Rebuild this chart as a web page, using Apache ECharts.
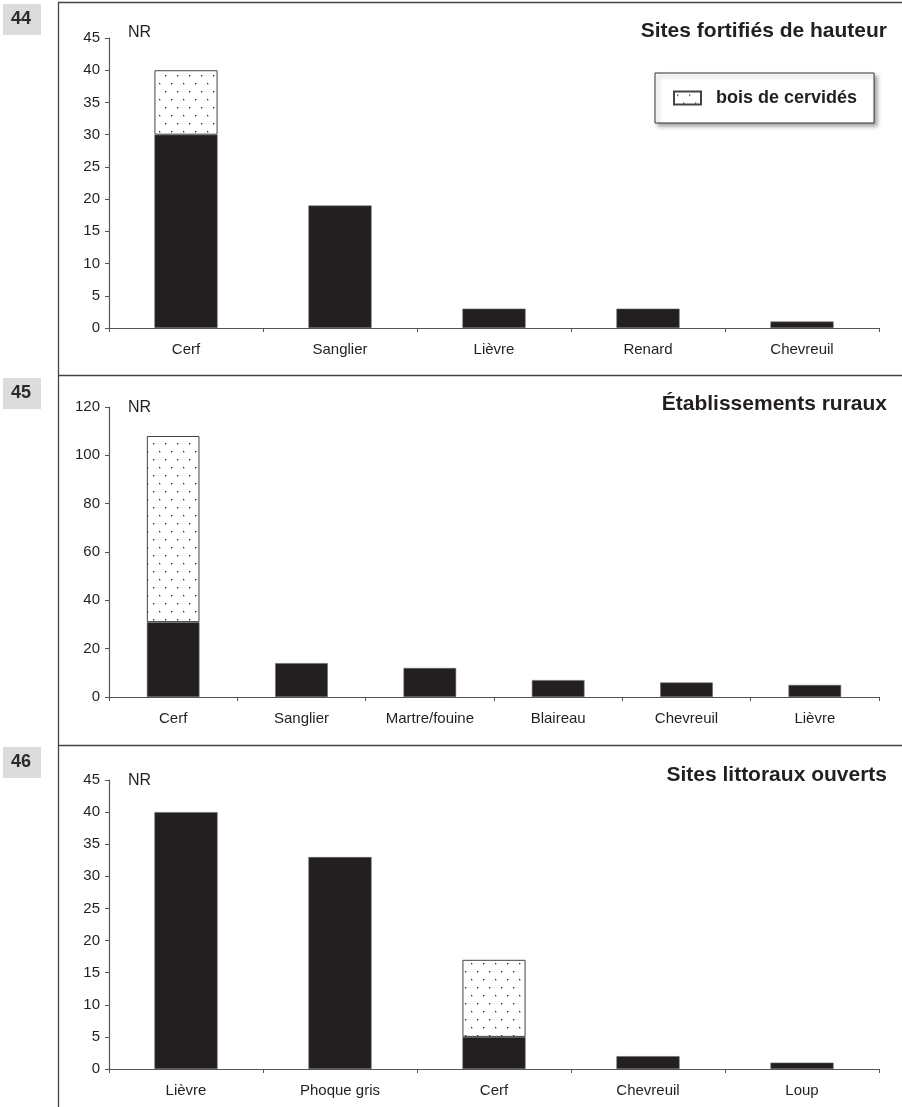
<!DOCTYPE html>
<html>
<head>
<meta charset="utf-8">
<script src="https://cdn.jsdelivr.net/npm/echarts@6/dist/echarts.min.js"></script>
<style>
html,body{margin:0;padding:0;background:#fff;}
#chart{width:902px;height:1107px;}
</style>
</head>
<body>
<div id="chart"></div>
<script>
// ---- Data ----
const cats44 = ['Cerf', 'Sanglier', 'Lièvre', 'Renard', 'Chevreuil'];
const bones44 = [30, 19, 3, 3, 1];
const antler44 = [10, null, null, null, null];

const cats45 = ['Cerf', 'Sanglier', 'Martre/fouine', 'Blaireau', 'Chevreuil', 'Lièvre'];
const bones45 = [31, 14, 12, 7, 6, 5];
const antler45 = [77, null, null, null, null, null];

const cats46 = ['Lièvre', 'Phoque gris', 'Cerf', 'Chevreuil', 'Loup'];
const bones46 = [40, 33, 5, 2, 1];
const antler46 = [null, null, 12, null, null];

const yTicks44 = {min: 0, max: 45, interval: 5};
const yTicks45 = {min: 0, max: 120, interval: 20};
const yTicks46 = {min: 0, max: 45, interval: 5};

const titles = ['Sites fortifiés de hauteur', 'Établissements ruraux', 'Sites littoraux ouverts'];
const figNums = ['44', '45', '46'];
const legendName = 'bois de cervidés';

// ---- Dotted pattern ----
const pat = document.createElement('canvas');
pat.width = 12; pat.height = 16;
const pctx = pat.getContext('2d');
pctx.fillStyle = '#ffffff';
pctx.fillRect(0, 0, 12, 16);
pctx.fillStyle = '#222222';
pctx.fillRect(3, 3, 1.3, 1.3);
pctx.fillRect(9, 11, 1.3, 1.3);

const FONT = 'Liberation Sans, Arial, sans-serif';
const TXT = '#231f20';
const AX = '#555555';
const BAR = '#231f20';

const grids = [
  {left: 109, right: 23, top: 38, height: 290},
  {left: 109, right: 23, top: 407, height: 290},
  {left: 109, right: 23, top: 780, height: 289}
];
const catsAll = [cats44, cats45, cats46];
const bonesAll = [bones44, bones45, bones46];
const antlerAll = [antler44, antler45, antler46];
const yAll = [yTicks44, yTicks45, yTicks46];

const xAxes = catsAll.map((c, i) => ({
  type: 'category', gridIndex: i, data: c,
  axisLine: {lineStyle: {color: AX, width: 1.2}},
  axisTick: {show: true, alignWithLabel: false, length: 4, lineStyle: {color: AX}},
  axisLabel: {color: TXT, fontFamily: FONT, fontSize: 15, margin: 14, interval: 0}
}));
const yAxes = yAll.map((y, i) => ({
  type: 'value', gridIndex: i, min: y.min, max: y.max, interval: y.interval,
  axisLine: {show: true, lineStyle: {color: AX, width: 1.2}},
  axisTick: {show: true, length: 4, lineStyle: {color: AX}},
  splitLine: {show: false},
  axisLabel: {color: TXT, fontFamily: FONT, fontSize: 15, margin: 9}
}));

const series = [];
for (let i = 0; i < 3; i++) {
  series.push({
    name: 'os', type: 'bar', xAxisIndex: i, yAxisIndex: i, stack: 's' + i,
    data: bonesAll[i], barWidth: '41%',
    itemStyle: {color: BAR, borderColor: '#666', borderWidth: 0.6},
    emphasis: {disabled: true}
  });
  series.push({
    name: legendName, type: 'bar', xAxisIndex: i, yAxisIndex: i, stack: 's' + i,
    data: antlerAll[i], barWidth: '41%',
    itemStyle: {color: {image: pat, repeat: 'repeat'}, borderColor: '#444', borderWidth: 1},
    emphasis: {disabled: true}
  });
}

const sepY = [2, 375, 745];
const graphic = [];
// frame
graphic.push({type: 'line', shape: {x1: 58.5, y1: 2, x2: 58.5, y2: 1107}, style: {stroke: '#444', lineWidth: 1.3}});
sepY.forEach((y) => {
  graphic.push({type: 'line', shape: {x1: 58, y1: y + 0.5, x2: 902, y2: y + 0.5}, style: {stroke: '#444', lineWidth: 1.3}});
});
// figure numbers
const numTop = [4, 378, 747];
figNums.forEach((n, i) => {
  graphic.push({type: 'rect', shape: {x: 3, y: numTop[i], width: 38, height: 31}, style: {fill: '#dcdcdc'}});
  graphic.push({type: 'text', x: 21, y: numTop[i] + 15, style: {text: n, fill: '#2a2a2a', font: 'bold 18px ' + FONT, textAlign: 'center', textVerticalAlign: 'middle'}});
});
// NR labels
const nrY = [33, 408, 781];
nrY.forEach((y) => {
  graphic.push({type: 'text', x: 128, y: y, style: {text: 'NR', fill: TXT, font: '16px ' + FONT, textAlign: 'left', textVerticalAlign: 'middle'}});
});
// titles
const titleY = [31, 404, 775];
titles.forEach((t, i) => {
  graphic.push({type: 'text', x: 887, y: titleY[i], style: {text: t, fill: TXT, font: 'bold 21px ' + FONT, textAlign: 'right', textVerticalAlign: 'middle'}});
});

const chart = echarts.init(document.getElementById('chart'), null, {renderer: 'canvas'});
chart.setOption({
  animation: false,
  backgroundColor: '#fff',
  grid: grids,
  xAxis: xAxes,
  yAxis: yAxes,
  legend: {
    data: [{name: legendName, icon: 'rect'}],
    left: 655, top: 73,
    orient: 'horizontal',
    padding: [16, 17, 16, 18],
    itemWidth: 27, itemHeight: 13,
    backgroundColor: '#fff',
    borderColor: '#333', borderWidth: 1,
    shadowColor: 'rgba(0,0,0,0.35)', shadowBlur: 4, shadowOffsetX: 3, shadowOffsetY: 3,
    textStyle: {color: TXT, fontFamily: FONT, fontSize: 18, fontWeight: 'bold', padding: [0, 0, 0, 10]},
    selectedMode: false
  },
  series: series,
  graphic: graphic
});
</script>
</body>
</html>
